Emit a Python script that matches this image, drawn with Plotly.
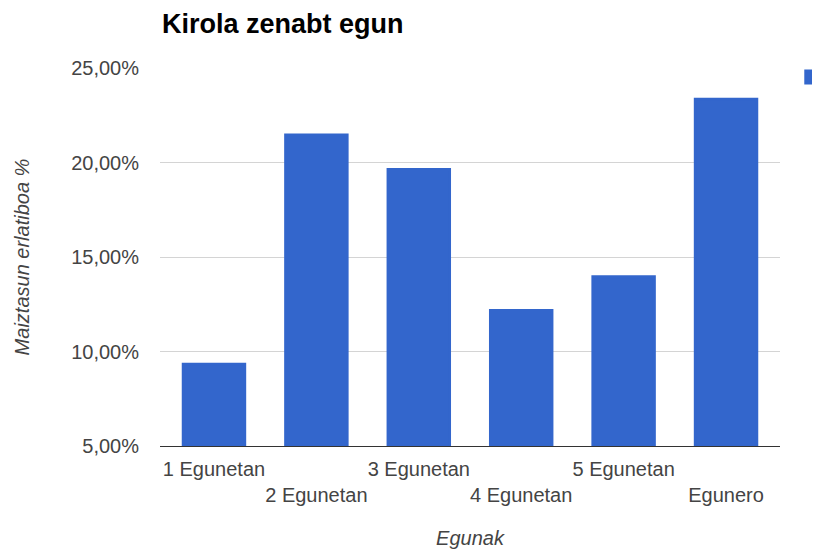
import plotly.graph_objects as go

categories = ["1 Egunetan", "2 Egunetan", "3 Egunetan", "4 Egunetan", "5 Egunetan", "Egunero"]
values = [9.33, 21.45, 19.63, 12.17, 13.95, 23.34]
tick_values = [5, 10, 15, 20, 25]
tick_labels = ["5,00%", "10,00%", "15,00%", "20,00%", "25,00%"]
series_name = ""  # legend label is cut off in the original; only the key square shows

# stagger the category labels on two rows, like the original
x_ticktext = [c if i % 2 == 0 else "<br>" + c for i, c in enumerate(categories)]

FONT = "Liberation Sans, Arial, sans-serif"
FS = 20

# the page body adds an 8px offset, so the figure is 8px smaller than the window
W, H = 812, 544

fig = go.Figure()
fig.add_trace(go.Bar(
    x=categories, y=values, name=series_name,
    marker=dict(color="#3366cc", line=dict(width=3, color="#3366cc")),
))

fig.update_layout(
    width=W, height=H,
    margin=dict(l=152, r=40, t=60, b=106, autoexpand=False),
    paper_bgcolor="white", plot_bgcolor="white",
    font=dict(family=FONT, size=FS, color="#444444"),
    title=dict(text="<b>Kirola zenabt egun</b>", x=154/W, xanchor="left",
               y=1 - 16/H, yanchor="middle",
               font=dict(family=FONT, size=27, color="#000000")),
    bargap=0.40,
    showlegend=True,
    legend=dict(x=1.019, y=1.028, xanchor="left", yanchor="top",
                bgcolor="rgba(0,0,0,0)", font=dict(size=FS)),
    xaxis=dict(
        tickmode="array", tickvals=categories, ticktext=x_ticktext,
        range=[-0.527, 5.527], tickangle=0, ticklabelstandoff=5,
        showgrid=False, ticks="", showline=True, linecolor="#333333", linewidth=1,
        tickfont=dict(size=FS, color="#444444"),
        title=dict(text="<i>Egunak</i>", font=dict(size=FS, color="#444444"), standoff=25),
    ),
    yaxis=dict(
        range=[5, 25], tickmode="array", tickvals=tick_values, ticktext=tick_labels,
        showgrid=True, gridcolor="#d4d4d4", gridwidth=1, zeroline=False,
        ticks="", ticklabelstandoff=20, tickfont=dict(size=FS, color="#444444"),
        title=dict(text="<i>Maiztasun erlatiboa %</i>", font=dict(size=FS, color="#444444"), standoff=36),
    ),
)

fig.write_html("out.html")
